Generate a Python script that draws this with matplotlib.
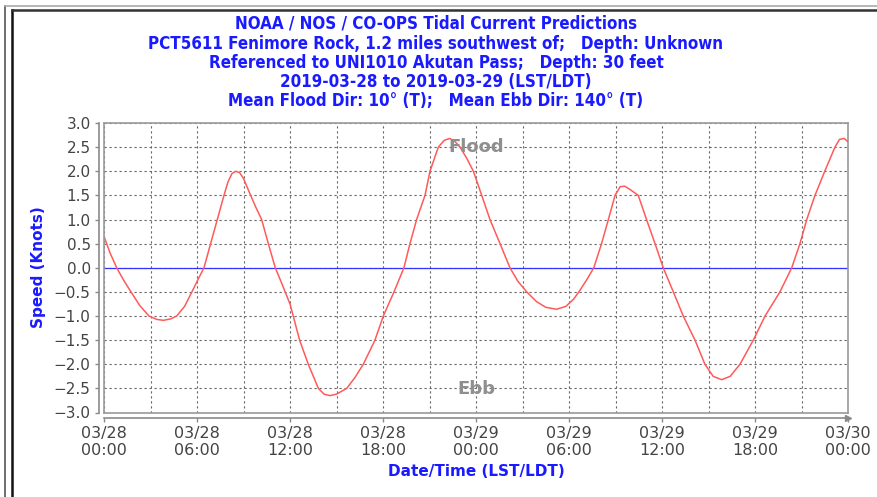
import datetime as dt
import matplotlib
matplotlib.use("Agg")
import matplotlib.pyplot as plt
import matplotlib.dates as mdates
from matplotlib.lines import Line2D
from matplotlib.transforms import ScaledTranslation

# ---------------- data ----------------
start = dt.datetime(2019, 3, 28, 0, 0)
end = dt.datetime(2019, 3, 30, 0, 0)

hours = [0.0, 0.4, 0.82, 1.25, 1.7, 2.3, 2.9, 3.4, 3.83, 4.3, 4.69, 5.2, 5.72, 6.1, 6.45,
         6.88, 7.31, 7.74, 8.0, 8.25, 8.5, 8.75, 9.0, 9.46, 9.8, 10.17, 10.6, 11.05, 11.5,
         12.0, 12.62, 13.18, 13.83, 14.2, 14.58, 15.0, 15.66, 16.2, 16.73, 17.48, 18.02,
         18.71, 19.35, 19.74, 20.17, 20.71, 21.03, 21.57, 21.95, 22.3, 22.6, 22.97, 23.4,
         23.83, 24.37, 24.9, 25.55, 26.19, 26.7, 27.27, 27.9, 28.5, 29.2, 29.8, 30.3, 30.7,
         31.2, 31.6, 32.1, 32.54, 32.97, 33.3, 33.6, 33.9, 34.47, 35.0, 35.55, 36.08, 36.73,
         37.37, 38.13, 38.77, 39.3, 39.85, 40.4, 41.03, 41.89, 42.65, 43.61, 44.37, 44.9,
         45.34, 45.87, 46.5, 47.16, 47.45, 47.75, 48.0]
speed = [0.65, 0.30, 0.0, -0.25, -0.48, -0.78, -1.0, -1.07, -1.09, -1.06, -1.0, -0.8, -0.47,
         -0.22, 0.0, 0.5, 1.0, 1.5, 1.78, 1.95, 2.0, 1.97, 1.85, 1.5, 1.25, 1.0, 0.5, 0.0,
         -0.35, -0.75, -1.5, -2.0, -2.5, -2.62, -2.65, -2.62, -2.5, -2.27, -2.0, -1.5, -1.0,
         -0.5, 0.0, 0.5, 1.0, 1.5, 2.0, 2.5, 2.64, 2.68, 2.63, 2.5, 2.27, 2.0, 1.5, 1.0,
         0.5, 0.0, -0.28, -0.5, -0.7, -0.82, -0.86, -0.8, -0.65, -0.47, -0.22, 0.0, 0.5,
         1.0, 1.5, 1.68, 1.69, 1.63, 1.5, 1.0, 0.5, 0.0, -0.5, -1.0, -1.5, -2.0, -2.25,
         -2.32, -2.25, -2.0, -1.5, -1.0, -0.5, 0.0, 0.5, 1.0, 1.5, 2.0, 2.5, 2.66, 2.68,
         2.61]

title_lines = [
    "NOAA / NOS / CO-OPS Tidal Current Predictions",
    "PCT5611 Fenimore Rock, 1.2 miles southwest of;   Depth: Unknown",
    "Referenced to UNI1010 Akutan Pass;   Depth: 30 feet",
    "2019-03-28 to 2019-03-29 (LST/LDT)",
    "Mean Flood Dir: 10\u00b0 (T);   Mean Ebb Dir: 140\u00b0 (T)",
]
y_ticks = [-3.0, -2.5, -2.0, -1.5, -1.0, -0.5, 0.0, 0.5, 1.0, 1.5, 2.0, 2.5, 3.0]

times = [start + dt.timedelta(hours=h) for h in hours]

# ---------------- figure ----------------
W, H = 877, 497
fig = plt.figure(figsize=(W / 100, H / 100), dpi=100)
fig.patch.set_facecolor("white")

def fx(px):
    return px / W

def fy(py):
    return 1 - py / H

ax = fig.add_axes([fx(104), fy(412.5), fx(848) - fx(104), fy(123) - fy(412.5)])

ax.plot(times, speed, color="#ff5a5a", lw=1.1, zorder=3)
ax.axhline(0, color="#3333ff", lw=0.9, zorder=2)

ax.set_xlim(start, end)
ax.set_ylim(-3.0, 3.0)
ax.set_yticks(y_ticks)
ax.set_yticklabels([f"{v:.1f}".replace("-", "\u2212") for v in y_ticks])

ax.xaxis.set_major_locator(mdates.HourLocator(byhour=[0, 6, 12, 18]))
ax.xaxis.set_minor_locator(mdates.HourLocator(byhour=list(range(0, 24, 3))))
ax.xaxis.set_major_formatter(mdates.DateFormatter("%m/%d\n%H:%M"))

grid_kw = dict(color="#666666", lw=0.8, linestyle=(0, (2, 2.5)))
ax.grid(True, which="major", axis="both", **grid_kw)
ax.grid(True, which="minor", axis="x", **grid_kw)
ax.set_axisbelow(True)

for s in ["left", "bottom"]:
    ax.spines[s].set_position(("outward", 3.6))
    ax.spines[s].set_color("#8a8a8a")
    ax.spines[s].set_linewidth(1.2)
for s in ["top", "right"]:
    ax.spines[s].set_color("#9a9a9a")
    ax.spines[s].set_linewidth(1.2)

# plot-area box (left & bottom edges)
ax.plot([0, 0], [0, 1], transform=ax.transAxes, color="#9a9a9a", lw=1.2, clip_on=False, zorder=4)
ax.plot([0, 1], [0, 0], transform=ax.transAxes, color="#9a9a9a", lw=1.2, clip_on=False, zorder=4)

# arrow at end of x axis
arrow_tr = ax.transAxes + ScaledTranslation(0, -3.6 / 72, fig.dpi_scale_trans)
ax.plot([1], [0], marker=">", markersize=4, color="#8a8a8a", transform=arrow_tr, clip_on=False)

ax.tick_params(axis="both", which="major", length=3, width=1, color="#8a8a8a",
               labelsize=11, labelcolor="#444444", pad=3)
ax.tick_params(axis="x", which="major", labelsize=11.5)
ax.tick_params(axis="x", which="minor", length=0)
for lbl in ax.get_xticklabels():
    lbl.set_multialignment("center")

# Flood / Ebb annotations
mid = start + dt.timedelta(hours=24)
ax.text(mid, 2.5, "Flood", ha="center", va="center", fontsize=13, fontweight="bold",
        color="#8f8f8f", zorder=5)
ax.text(mid, -2.52, "Ebb", ha="center", va="center", fontsize=13, fontweight="bold",
        color="#8f8f8f", zorder=5)

# titles
title_y = [24, 44, 63, 82, 101]
for t, yy in zip(title_lines, title_y):
    fig.text(fx(436), fy(yy), t, ha="center", va="center", fontsize=12.2, fontweight="bold",
             fontstretch="condensed", color="#1a1aff")

fig.text(fx(39), fy(267), "Speed (Knots)", rotation=90, ha="center", va="center",
         fontsize=11, fontweight="bold", color="#1a1aff")
fig.text(fx(476), fy(471), "Date/Time (LST/LDT)", ha="center", va="center",
         fontsize=11, fontweight="bold", color="#1a1aff")

# frame lines (applet border)
fig.add_artist(Line2D([fx(5), fx(5)], [fy(6), 0], color="#555555", lw=1.2))
fig.add_artist(Line2D([fx(5), 1], [fy(6), fy(6)], color="#aaaaaa", lw=1.2))
fig.add_artist(Line2D([fx(12), fx(12)], [fy(10), 0], color="#111111", lw=1.8))
fig.add_artist(Line2D([fx(12), 1], [fy(10), fy(10)], color="#333333", lw=1.8))

fig.savefig("out.png", dpi=100)
